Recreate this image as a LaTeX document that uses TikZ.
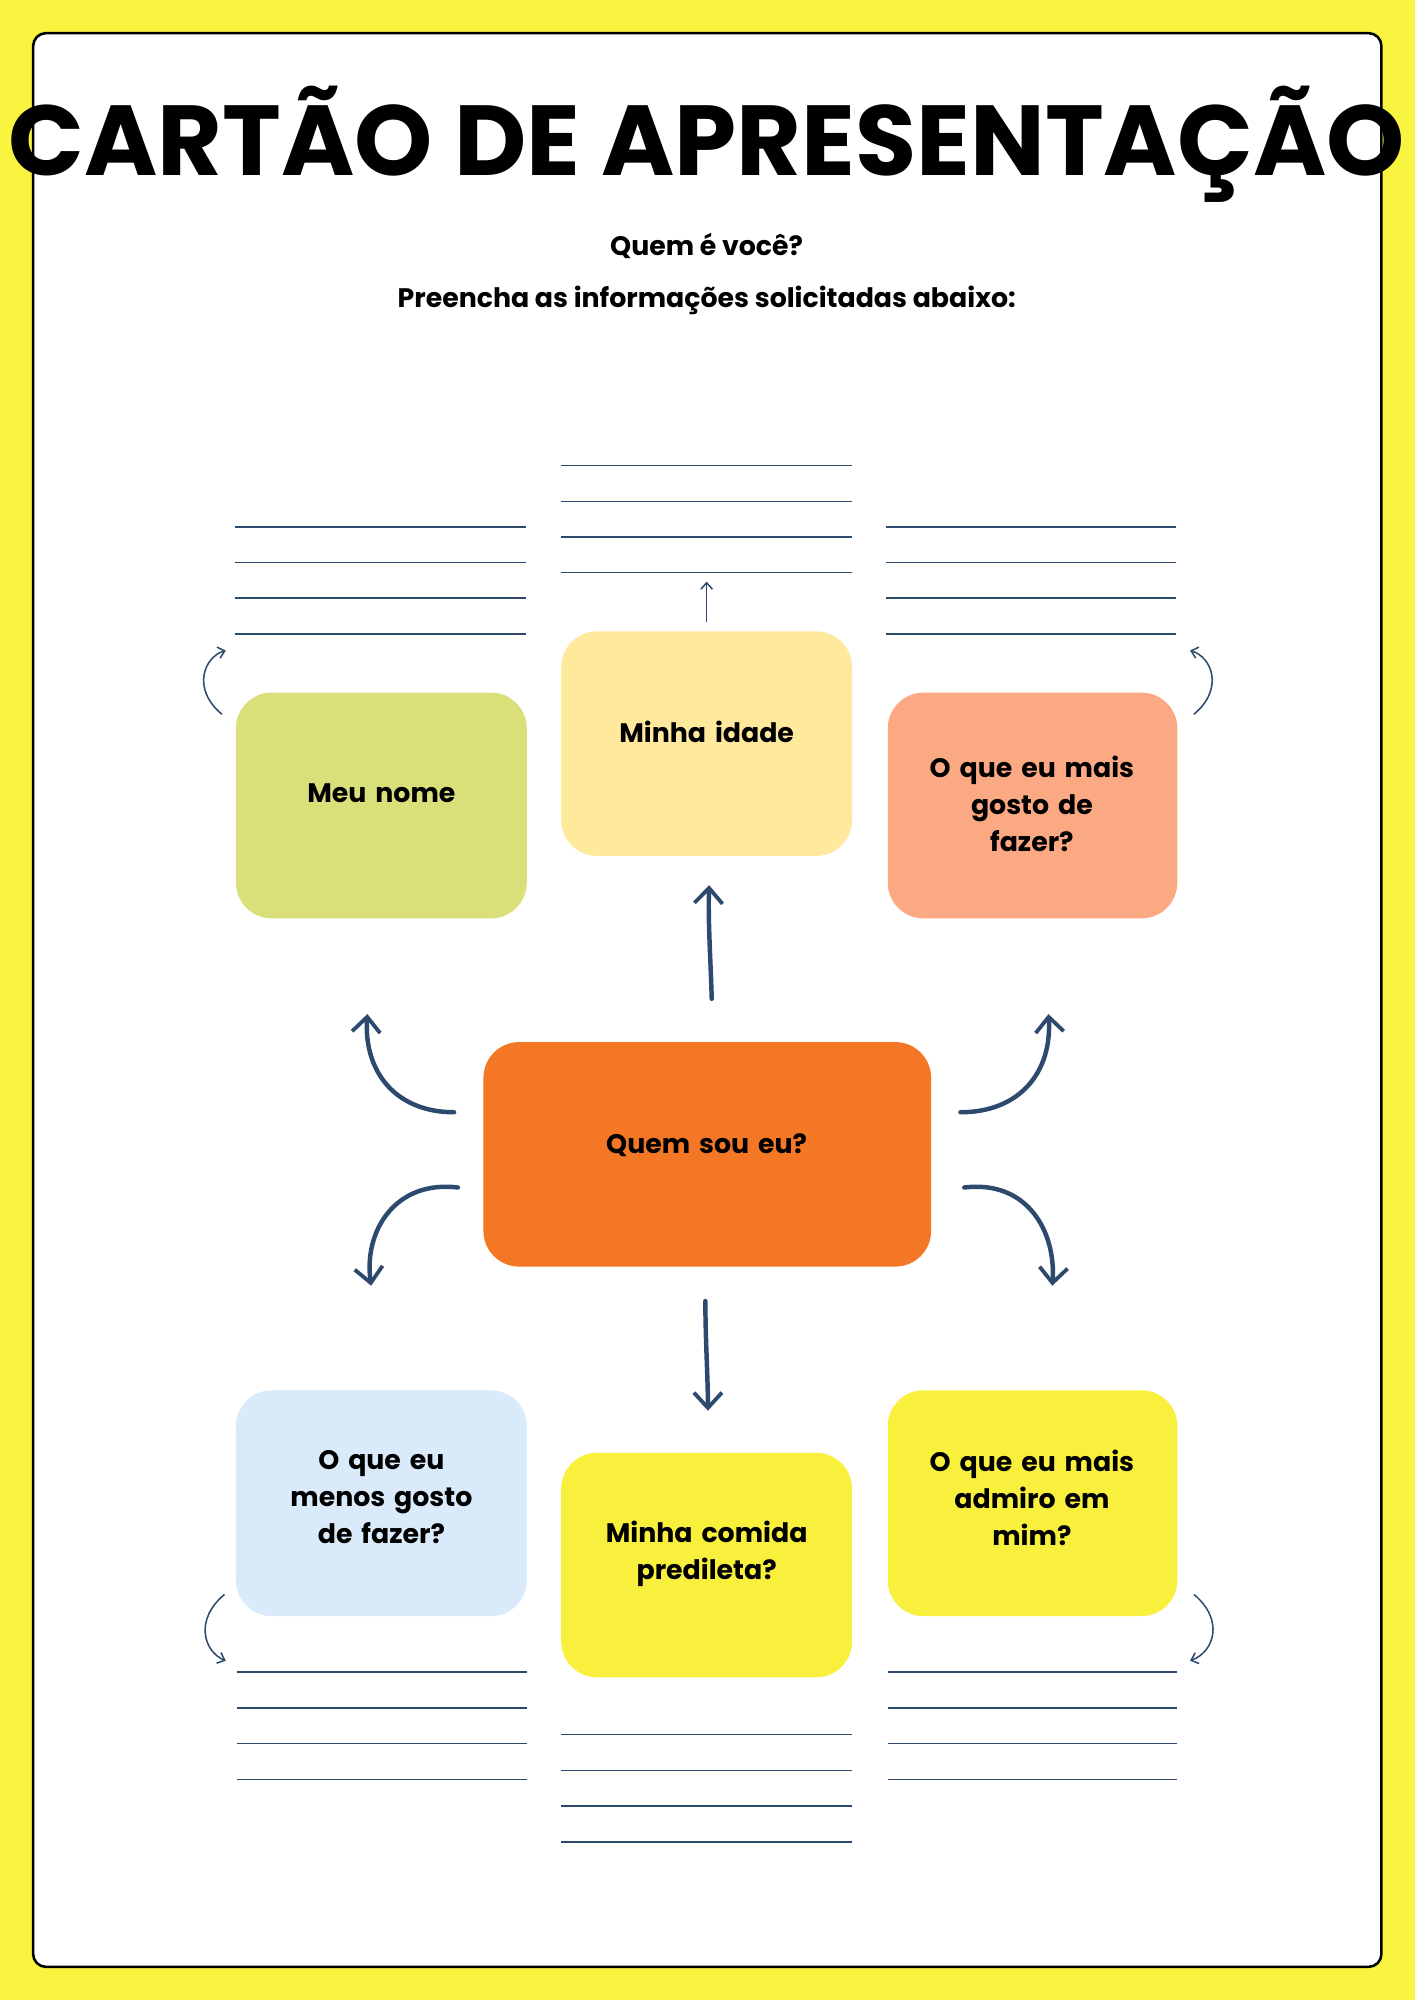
\documentclass[tikz,border=0pt]{standalone}
\usepackage{fontspec}
\setmainfont{Poppins}
\usetikzlibrary{arrows.meta}
\definecolor{bg}{HTML}{F9F43F}
\definecolor{ln}{HTML}{2D4A6E}
\definecolor{cgreen}{HTML}{D9E07A}
\definecolor{cpale}{HTML}{FFE99C}
\definecolor{csalmon}{HTML}{FBA983}
\definecolor{corange}{HTML}{F47726}
\definecolor{cblue}{HTML}{D9EAFB}
\definecolor{cyel}{HTML}{F9F03D}
\begin{document}
\begin{tikzpicture}[x=1pt,y=-1pt,
  box/.style={rounded corners=28pt,align=center,font=\fontsize{21}{29}\selectfont\bfseries,text width=200pt},
  wline/.style={ln,line width=1.2pt},
  big/.style={ln,line width=3.5pt,line cap=round,-{Straight Barb[length=12pt,width=22pt,line width=3pt]}},
  small/.style={ln,line width=1.2pt,-{Straight Barb[length=5pt,width=9pt]}}]
\fill[bg] (0,0) rectangle (1109,1568);
\useasboundingbox (0,0) rectangle (1109,1568);
\draw[fill=white,line width=2pt,rounded corners=10pt] (26,26) rectangle (1083,1542);
\node (title) at (554,113) {\fontsize{78}{80}\selectfont\bfseries CARTÃO DE APRESENTAÇÃO};
\node[align=center,font=\fontsize{21}{41}\selectfont\bfseries] (sub) at (554,215) {Quem é você?\\Preencha as informações solicitadas abaixo:};
% boxes
\fill[cgreen,rounded corners=28pt] (185,543) rectangle (413,720);
\node[box] (nome) at (299,622) {Meu nome};
\fill[cpale,rounded corners=28pt] (440,495) rectangle (668,671);
\node[box] (idade) at (554,574) {Minha idade};
\fill[csalmon,rounded corners=28pt] (696,543) rectangle (923,720);
\node[box] (gosto) at (809,630) {O que eu mais\\gosto de\\fazer?};
\fill[corange,rounded corners=28pt] (379,817) rectangle (730,993);
\node[box] (centro) at (554,898) {Quem sou eu?};
\fill[cblue,rounded corners=28pt] (185,1090) rectangle (413,1267);
\node[box] (menos) at (299,1174) {O que eu\\menos gosto\\de fazer?};
\fill[cyel,rounded corners=28pt] (440,1139) rectangle (668,1315);
\node[box] (comida) at (554,1218) {Minha comida\\predileta?};
\fill[cyel,rounded corners=28pt] (696,1090) rectangle (923,1267);
\node[box] (admiro) at (809,1174) {O que eu mais\\admiro em\\mim?};
% writing lines
\foreach \y in {413,441,469,497}{\draw[wline] (184,\y) -- (412,\y); \draw[wline] (695,\y) -- (922,\y);}
\foreach \y in {365,393,421,449}{\draw[wline] (440,\y) -- (668,\y);}
\foreach \y in {1311,1339,1367,1395}{\draw[wline] (186,\y) -- (413,\y); \draw[wline] (696,\y) -- (923,\y);}
\foreach \y in {1360,1388,1416,1444}{\draw[wline] (440,\y) -- (668,\y);}
% coordinates
\coordinate (a1) at (554,488); \coordinate (a2) at (554,456);
\coordinate (b1) at (174,560); \coordinate (b2) at (177,510);
\coordinate (c1) at (936,560); \coordinate (c2) at (933,510);
\coordinate (d1) at (176,1250); \coordinate (d2) at (177,1302);
\coordinate (e1) at (936,1250); \coordinate (e2) at (933,1302);
\draw[small] (a1) -- (a2);
\draw[small] (b1) .. controls (150,540) and (160,515) .. (b2);
\draw[small] (c1) .. controls (960,540) and (950,515) .. (c2);
\draw[small] (d1) .. controls (152,1270) and (160,1295) .. (d2);
\draw[small] (e1) .. controls (960,1270) and (952,1295) .. (e2);
% big arrows
\coordinate (u1) at (558,783); \coordinate (u2) at (556,694);
\coordinate (l1) at (356,872); \coordinate (l2) at (288,795);
\coordinate (r1) at (753,872); \coordinate (r2) at (822,795);
\coordinate (ld1) at (359,931); \coordinate (ld2) at (291,1008);
\coordinate (rd1) at (756,931); \coordinate (rd2) at (825,1008);
\coordinate (dd1) at (553,1020); \coordinate (dd2) at (555,1106);
\draw[big] (u1) .. controls (557,750) and (555,720) .. (u2);
\draw[big] (l1) .. controls (310,872) and (285,840) .. (l2);
\draw[big] (r1) .. controls (800,872) and (825,840) .. (r2);
\draw[big] (ld1) .. controls (310,925) and (285,965) .. (ld2);
\draw[big] (rd1) .. controls (805,925) and (828,965) .. (rd2);
\draw[big] (dd1) .. controls (553,1050) and (555,1080) .. (dd2);
\end{tikzpicture}
\end{document}
